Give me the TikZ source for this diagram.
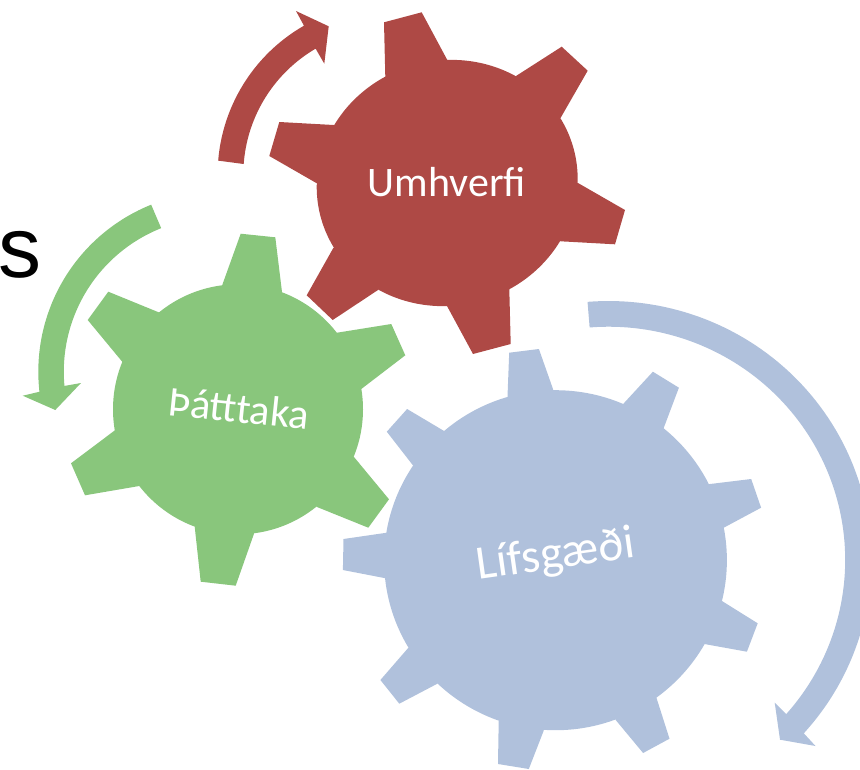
\documentclass[tikz,border=0pt]{standalone}
\usepackage{fontspec}
\setmainfont{Carlito}
\newfontfamily\arialfont{Liberation Sans}
\definecolor{gearred}{HTML}{AE4945}
\definecolor{geargreen}{HTML}{89C67C}
\definecolor{gearblue}{HTML}{B0C1DC}
\tikzset{
  geartext/.style={text=white,inner sep=0pt,anchor=center},
}
\begin{document}
\begin{tikzpicture}[x=1pt,y=-1pt]
\clip (0,0) rectangle (860,769);
\useasboundingbox (0,0) rectangle (860,769);
% red gear
\coordinate (rc) at (447.2,183);
\begin{scope}[gearred]
\fill[shift={(rc)},rotate=15] (0,0) ellipse [x radius=131pt,y radius=122.5pt];
\fill (385.3,76.7) -- (384,22.3) -- (421.7,12.3) -- (447.3,60) -- (rc) -- cycle;
\fill (516,76) -- (561.7,46.7) -- (587.7,70.7) -- (560.7,117.7) -- (rc) -- cycle;
\fill (578,183) -- (625,210) -- (615,244.3) -- (560.7,241.3) -- (rc) -- cycle;
\fill (509.3,289.3) -- (510.7,344) -- (473,354) -- (447,306) -- (rc) -- cycle;
\fill (378,290) -- (332.7,320) -- (306.7,295.3) -- (333.3,248) -- (rc) -- cycle;
\fill (316.3,183) -- (269.3,156) -- (279.3,122) -- (333.7,125) -- (rc) -- cycle;
\fill plot[domain=184.7:240.2,samples=70] ({389.3+171.7*cos(\x)},{174.7+171.7*sin(\x)}) -- (296,11) -- (328.7,26.3) -- (324.3,63.7) -- (316,49.3) -- plot[domain=239.7:184.2,samples=70] ({389.3+146*cos(\x)},{174.7+146*sin(\x)}) -- cycle;
\end{scope}
% green gear
\coordinate (gc) at (238,409.3);
\begin{scope}[geargreen]
\fill (gc) circle [radius=125pt];
\fill (222,285.7) -- (240.7,233.7) -- (275.3,237.3) -- (282,292) -- (gc) -- cycle;
\fill (337,332.7) -- (391.3,324) -- (405.3,355.3) -- (361.3,389) -- (gc) -- cycle;
\fill (354,457) -- (389,499.3) -- (368.3,527.7) -- (317,507) -- (gc) -- cycle;
\fill (254,533.7) -- (235.7,585.7) -- (200.7,581.7) -- (194.7,526.7) -- (gc) -- cycle;
\fill (139.3,486) -- (85,495.3) -- (71,463.3) -- (115.3,430) -- (gc) -- cycle;
\fill (122.7,362.3) -- (87.7,320) -- (108.3,291.7) -- (158.7,312.3) -- (gc) -- cycle;
\fill plot[domain=248.1:173.6,samples=70] ({218.3+180*cos(\x)},{371.7+180*sin(\x)}) -- (22.7,395.7) -- (55.3,410) -- (81,383) -- (64,386) -- plot[domain=174.7:248.3,samples=70] ({218.3+154.5*cos(\x)},{371.7+154.5*sin(\x)}) -- cycle;
\end{scope}
% blue gear
\coordinate (bc) at (555.5,560.2);
\begin{scope}[gearblue]
\fill (bc) ellipse [x radius=171.4pt,y radius=170pt];
\fill (507.5,396.7) -- (509.2,352.7) -- (538.9,349) -- (553.1,389.3) -- (bc) -- cycle;
\fill (623.4,403.7) -- (652.9,371.7) -- (678.9,387.7) -- (663.7,428) -- (bc) -- cycle;
\fill (707.6,484.3) -- (751.2,479) -- (761.1,507.7) -- (723.2,528) -- (bc) -- cycle;
\fill (721.5,600.7) -- (757.7,623.3) -- (746.9,651.7) -- (704.3,644) -- (bc) -- cycle;
\fill (656.3,697.3) -- (669.5,738.7) -- (643.1,753) -- (615.7,720) -- (bc) -- cycle;
\fill (543.7,730.7) -- (528.8,769) -- (498,764) -- (498.7,721) -- (bc) -- cycle;
\fill (436.8,684) -- (399.3,703.7) -- (380.4,680) -- (408.4,647.7) -- (bc) -- cycle;
\fill (385.8,578.3) -- (342.9,570) -- (343.5,539) -- (386.8,532.7) -- (bc) -- cycle;
\fill (412.9,465.3) -- (386.8,431.7) -- (407.1,409) -- (443.6,430.7) -- (bc) -- cycle;
\fill plot[domain=-94.6:42,samples=90] ({608.6+262.7*cos(\x)},{560+259*sin(\x)}) -- (815.5,746) -- (780,739.7) -- (774.7,702.7) -- (786.5,714.3) -- plot[domain=41.4:-94.6,samples=90] ({608.6+236.6*cos(\x)},{560+233.3*sin(\x)}) -- cycle;
\end{scope}
% labels
\node[geartext,font=\fontsize{42}{44}\selectfont] (umhverfi) at (447,181.7) {Umhverfi};
\node[geartext,font=\fontsize{42.5}{44}\selectfont,rotate=-6] (thatttaka) at (239,408) {Þátttaka};
\node[geartext,font=\fontsize{48}{50}\selectfont,rotate=8] (lifsgaedi) at (556,556) {Lífsgæði};
\node[inner sep=0pt,anchor=center,font=\arialfont\fontsize{86}{88}\selectfont] (s) at (20.3,254.5) {s};
\end{tikzpicture}
\end{document}
